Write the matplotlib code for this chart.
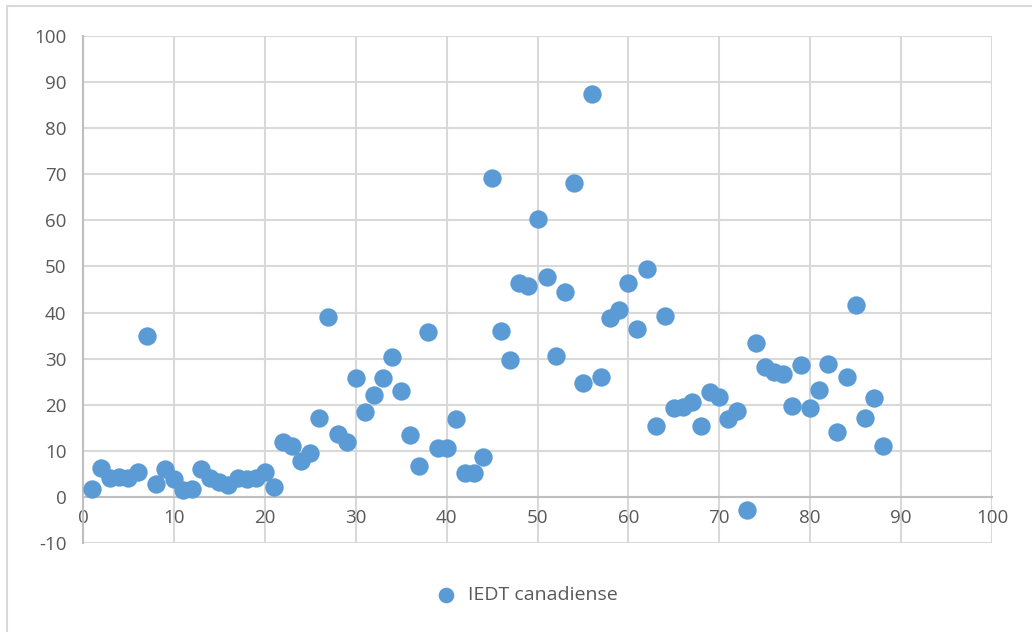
import matplotlib.pyplot as plt
from matplotlib.patches import Rectangle

# data
x_vals = list(range(1, 89))
iedt = [1.8, 6.3, 4.0, 4.4, 4.2, 5.3, 35.0, 2.8, 6.1, 3.8,
        1.6, 1.8, 6.1, 4.2, 3.3, 2.6, 4.0, 3.8, 4.2, 5.5,
        2.2, 12.0, 11.1, 7.8, 9.6, 17.2, 39.0, 13.7, 12.0, 25.8,
        18.4, 22.1, 25.8, 30.4, 23.0, 13.4, 6.7, 35.8, 10.6, 10.6,
        16.9, 5.2, 5.2, 8.7, 69.2, 36.0, 29.7, 46.4, 45.8, 60.3,
        47.7, 30.6, 44.5, 68.1, 24.7, 87.4, 26.0, 38.8, 40.6, 46.4,
        36.4, 49.5, 15.4, 39.3, 19.3, 19.5, 20.6, 15.4, 22.8, 21.7,
        16.9, 18.7, -2.8, 33.4, 28.2, 27.1, 26.7, 19.7, 28.6, 19.3,
        23.2, 28.9, 14.1, 26.0, 41.6, 17.1, 21.5, 11.1]
series_name = "IEDT canadiense"
x_ticks = list(range(0, 101, 10))
y_ticks = list(range(-10, 101, 10))

plt.rcParams['font.family'] = ['Open Sans', 'DejaVu Sans']
plt.rcParams['axes.unicode_minus'] = False

fig = plt.figure(figsize=(10.32, 6.32), dpi=100)
ax = fig.add_axes([83/1032, 1 - 543/632, (992-83)/1032, (543-36)/632])

# outer chart frame
fig.patches.append(Rectangle((7/1032, -0.05), 1.1, 1 - 6/632 + 0.05,
                             transform=fig.transFigure, fill=False,
                             edgecolor='#D9D9D9', linewidth=1.5))

ax.scatter(x_vals, iedt, s=175, color='#5B9BD5', zorder=3, label=series_name,
           linewidths=0)

ax.set_xlim(0, 100)
ax.set_ylim(-10, 100)
ax.set_xticks(x_ticks)
ax.set_yticks(y_ticks)
ax.grid(True, color='#D9D9D9', linewidth=1.5)
ax.set_axisbelow(True)

for s in ['top', 'right']:
    ax.spines[s].set_visible(False)
ax.spines['bottom'].set_position(('data', 0))
ax.spines['bottom'].set_color('#BFBFBF')
ax.spines['left'].set_color('#BFBFBF')
ax.spines['bottom'].set_linewidth(1.5)
ax.spines['left'].set_linewidth(1.5)
ax.tick_params(axis='both', length=0, labelsize=13.5, labelcolor='#595959')
ax.tick_params(axis='x', pad=9)
ax.tick_params(axis='y', pad=12)

fig.legend(loc='center', bbox_to_anchor=(522/1032, 1 - 595/632), frameon=False,
           fontsize=14, labelcolor='#595959', handletextpad=0.1, markerscale=0.85)

plt.savefig("out.png", dpi=100)
